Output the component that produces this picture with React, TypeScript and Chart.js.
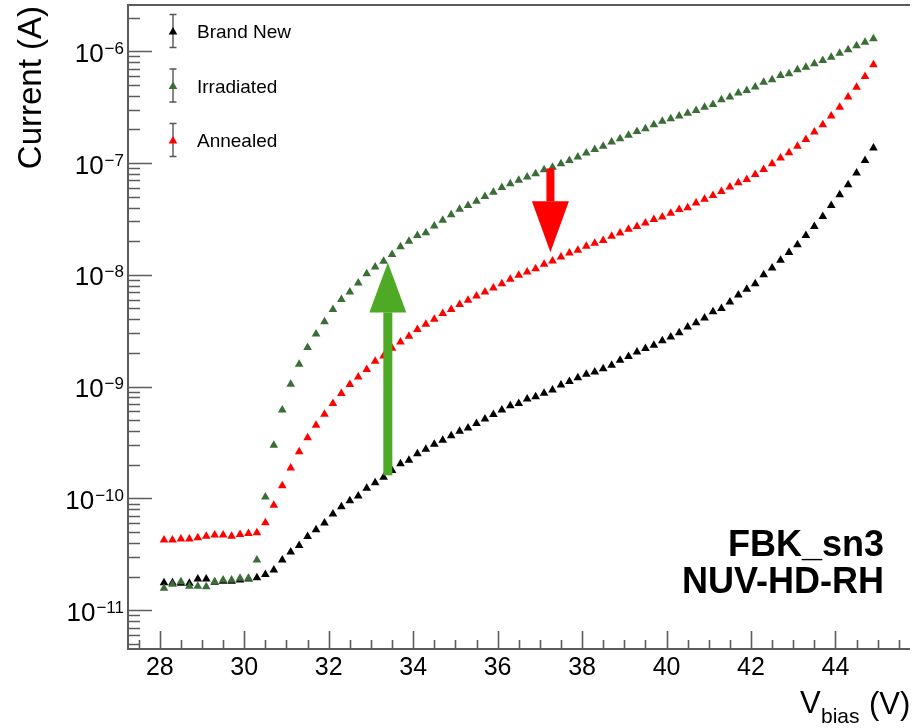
import React, { useEffect, useRef } from 'react';
import { Chart, registerables } from 'chart.js';

Chart.register(...registerables);

// ---------- data ----------
const voltages = [
  28.1, 28.3, 28.5, 28.7, 28.9, 29.1, 29.3, 29.5, 29.7, 29.9,
  30.1, 30.3, 30.5, 30.7, 30.9, 31.1, 31.3, 31.5, 31.7, 31.9,
  32.1, 32.3, 32.5, 32.7, 32.9, 33.1, 33.3, 33.5, 33.7, 33.9,
  34.1, 34.3, 34.5, 34.7, 34.9, 35.1, 35.3, 35.5, 35.7, 35.9,
  36.1, 36.3, 36.5, 36.7, 36.9, 37.1, 37.3, 37.5, 37.7, 37.9,
  38.1, 38.3, 38.5, 38.7, 38.9, 39.1, 39.3, 39.5, 39.7, 39.9,
  40.1, 40.3, 40.5, 40.7, 40.9, 41.1, 41.3, 41.5, 41.7, 41.9,
  42.1, 42.3, 42.5, 42.7, 42.9, 43.1, 43.3, 43.5, 43.7, 43.9,
  44.1, 44.3, 44.5, 44.7, 44.9,
];

const brandNew = [
  1.76e-11, 1.76e-11, 1.74e-11, 1.74e-11, 1.90e-11, 1.90e-11, 1.78e-11, 1.82e-11, 1.82e-11, 1.86e-11,
  1.90e-11, 1.95e-11, 2.09e-11, 2.29e-11, 2.82e-11, 3.31e-11, 3.80e-11, 4.57e-11, 5.25e-11, 6.03e-11,
  7.24e-11, 8.41e-11, 9.55e-11, 1.05e-10, 1.23e-10, 1.38e-10, 1.55e-10, 1.78e-10, 2.04e-10, 2.19e-10,
  2.51e-10, 2.75e-10, 3.05e-10, 3.31e-10, 3.63e-10, 3.98e-10, 4.27e-10, 4.68e-10, 5.13e-10, 5.62e-10,
  6.17e-10, 6.76e-10, 7.08e-10, 7.76e-10, 8.13e-10, 8.71e-10, 9.33e-10, 1.035e-9, 1.11e-9, 1.20e-9,
  1.29e-9, 1.35e-9, 1.445e-9, 1.55e-9, 1.72e-9, 1.86e-9, 2.04e-9, 2.19e-9, 2.34e-9, 2.57e-9,
  2.78e-9, 3.04e-9, 3.42e-9, 3.72e-9, 4.11e-9, 4.68e-9, 5.01e-9, 5.71e-9, 6.61e-9, 7.41e-9,
  8.32e-9, 1.00e-8, 1.15e-8, 1.35e-8, 1.585e-8, 1.86e-8, 2.25e-8, 2.71e-8, 3.33e-8, 4.17e-8,
  5.21e-8, 6.40e-8, 8.13e-8, 1.054e-7, 1.36e-7,
];

const irradiated = [
  1.57e-11, 1.71e-11, 1.80e-11, 1.64e-11, 1.64e-11, 1.62e-11, 1.80e-11, 1.86e-11, 1.86e-11, 1.93e-11,
  1.93e-11, 2.82e-11, 1.03e-10, 2.99e-10, 6.17e-10, 1.05e-9, 1.585e-9, 2.24e-9, 2.95e-9, 3.80e-9,
  4.90e-9, 6.03e-9, 7.02e-9, 8.45e-9, 1.02e-8, 1.175e-8, 1.32e-8, 1.52e-8, 1.78e-8, 2.00e-8,
  2.25e-8, 2.38e-8, 2.73e-8, 3.07e-8, 3.45e-8, 3.85e-8, 4.17e-8, 4.54e-8, 5.01e-8, 5.49e-8,
  6.03e-8, 6.53e-8, 7.00e-8, 7.48e-8, 8.02e-8, 8.71e-8, 9.18e-8, 9.86e-8, 1.054e-7, 1.13e-7,
  1.23e-7, 1.32e-7, 1.41e-7, 1.54e-7, 1.65e-7, 1.77e-7, 1.91e-7, 2.03e-7, 2.20e-7, 2.36e-7,
  2.49e-7, 2.63e-7, 2.79e-7, 2.95e-7, 3.16e-7, 3.34e-7, 3.68e-7, 3.89e-7, 4.22e-7, 4.46e-7,
  4.78e-7, 5.28e-7, 5.55e-7, 6.07e-7, 6.28e-7, 6.82e-7, 7.19e-7, 7.71e-7, 8.26e-7, 8.83e-7,
  9.59e-7, 1.03e-6, 1.12e-6, 1.20e-6, 1.29e-6,
];

const annealed = [
  4.24e-11, 4.24e-11, 4.33e-11, 4.33e-11, 4.45e-11, 4.60e-11, 4.70e-11, 4.70e-11, 4.60e-11, 4.76e-11,
  4.86e-11, 4.93e-11, 6.05e-11, 8.71e-11, 1.30e-10, 1.875e-10, 2.61e-10, 3.48e-10, 4.52e-10, 5.66e-10,
  7.06e-10, 8.67e-10, 1.045e-9, 1.22e-9, 1.42e-9, 1.69e-9, 1.88e-9, 2.20e-9, 2.51e-9, 2.82e-9,
  3.24e-9, 3.61e-9, 4.00e-9, 4.50e-9, 4.89e-9, 5.42e-9, 5.92e-9, 6.46e-9, 7.02e-9, 7.62e-9,
  8.34e-9, 9.12e-9, 9.90e-9, 1.06e-8, 1.135e-8, 1.24e-8, 1.33e-8, 1.445e-8, 1.57e-8, 1.66e-8,
  1.80e-8, 1.92e-8, 2.03e-8, 2.21e-8, 2.37e-8, 2.55e-8, 2.71e-8, 2.90e-8, 3.12e-8, 3.29e-8,
  3.56e-8, 3.83e-8, 3.98e-8, 4.39e-8, 4.73e-8, 5.13e-8, 5.57e-8, 6.09e-8, 6.67e-8, 7.13e-8,
  7.91e-8, 8.77e-8, 9.86e-8, 1.107e-7, 1.236e-7, 1.415e-7, 1.625e-7, 1.89e-7, 2.20e-7, 2.63e-7,
  3.16e-7, 3.89e-7, 4.76e-7, 5.94e-7, 7.55e-7,
];

const seriesLabels = ['Brand New', 'Irradiated', 'Annealed'];
const xTickLabels = [28, 30, 32, 34, 36, 38, 40, 42, 44];
const yTickExponents = [-11, -10, -9, -8, -7, -6];
const xRange = [27.247, 45.718];
const yRange = [4.5e-12, 2.59e-6];

// arrows (data coordinates): x, start current, tip current
const arrowX = [33.4, 37.25];
const arrowFrom = [1.61e-10, 8.95e-8];
const arrowTo = [1.29e-8, 1.59e-8];

const deviceLines = ['FBK_sn3', 'NUV-HD-RH'];
const yTitle = 'Current (A)';
const xTitleMain = 'V';
const xTitleSub = 'bias';
const xTitleUnit = '(V)';

// ---------- styles ----------
const FONT = '"Liberation Sans", Arial, Helvetica, sans-serif';
const AXIS_COLOR = '#5c5c5c';
const seriesColors = ['#000000', '#3b6d36', '#ff0000'];
const arrowColors = ['#4eaa24', '#ff0000'];
const MARKER_R = 5;

function triangle(ctx: CanvasRenderingContext2D, x: number, y: number, r: number) {
  ctx.beginPath();
  for (let i = 0; i < 3; i++) {
    const a = (i * 2 * Math.PI) / 3;
    const px = x + Math.sin(a) * r;
    const py = y - Math.cos(a) * r;
    if (i === 0) ctx.moveTo(px, py);
    else ctx.lineTo(px, py);
  }
  ctx.closePath();
  ctx.fill();
}

function drawArrow(
  ctx: CanvasRenderingContext2D,
  x: number,
  yFrom: number,
  yTo: number,
  color: string,
  shaftW: number,
  headW: number,
  headL: number
) {
  const dir = yTo < yFrom ? -1 : 1;
  const baseY = yTo - dir * headL;
  ctx.fillStyle = color;
  ctx.fillRect(x - shaftW / 2, Math.min(yFrom, baseY), shaftW, Math.abs(baseY - yFrom));
  ctx.beginPath();
  ctx.moveTo(x - headW / 2, baseY);
  ctx.lineTo(x + headW / 2, baseY);
  ctx.lineTo(x, yTo);
  ctx.closePath();
  ctx.fill();
}

const rootPlugin = {
  id: 'rootPlugin',
  afterDatasetsDraw(chart: any) {
    const { ctx, scales } = chart;
    const x = scales.x;
    const y = scales.y;
    ctx.save();
    arrowX.forEach((v, i) => {
      drawArrow(
        ctx,
        x.getPixelForValue(v),
        y.getPixelForValue(arrowFrom[i]),
        y.getPixelForValue(arrowTo[i]),
        arrowColors[i],
        i === 0 ? 9 : 8,
        37,
        i === 0 ? 50 : 51
      );
    });
    ctx.restore();
  },
  afterDraw(chart: any) {
    const { ctx, chartArea: a, scales } = chart;
    const x = scales.x;
    const y = scales.y;
    ctx.save();

    // frame (left, top, bottom)
    ctx.strokeStyle = AXIS_COLOR;
    ctx.lineWidth = 2;
    ctx.beginPath();
    ctx.moveTo(a.right + 2, a.top);
    ctx.lineTo(a.left, a.top);
    ctx.lineTo(a.left, a.bottom);
    ctx.lineTo(a.right + 2, a.bottom);
    ctx.stroke();

    // y ticks (log)
    ctx.lineWidth = 1.6;
    ctx.beginPath();
    for (let e = -13; e <= -5; e++) {
      for (let k = 1; k <= 9; k++) {
        const v = k * Math.pow(10, e);
        if (v < y.min || v > y.max) continue;
        const py = Math.round(y.getPixelForValue(v)) + 0.5;
        const len = k === 1 ? 24 : 12;
        ctx.moveTo(a.left, py);
        ctx.lineTo(a.left + len, py);
      }
    }
    // x ticks
    const i0 = Math.ceil(x.min * 2);
    const i1 = Math.floor(x.max * 2);
    for (let i = i0; i <= i1; i++) {
      const v = i / 2;
      const px = Math.round(x.getPixelForValue(v)) + 0.5;
      const len = i % 4 === 0 ? 18 : 9;
      ctx.moveTo(px, a.bottom);
      ctx.lineTo(px, a.bottom - len);
    }
    ctx.stroke();

    ctx.fillStyle = '#000';
    ctx.textBaseline = 'alphabetic';

    // y tick labels 10^e
    yTickExponents.forEach((e) => {
      const py = y.getPixelForValue(Math.pow(10, e));
      const expStr = '\u2212' + String(Math.abs(e));
      ctx.font = `17px ${FONT}`;
      const wExp = ctx.measureText(expStr).width;
      ctx.font = `26px ${FONT}`;
      const wTen = ctx.measureText('10').width;
      const right = 124;
      ctx.textAlign = 'left';
      ctx.fillText('10', right - wExp - wTen - 1, py + 10.5);
      ctx.font = `17px ${FONT}`;
      ctx.fillText(expStr, right - wExp, py + 2.5);
    });

    // x tick labels
    ctx.font = `25px ${FONT}`;
    ctx.textAlign = 'center';
    xTickLabels.forEach((v) => {
      ctx.fillText(String(v), x.getPixelForValue(v), a.bottom + 26);
    });

    // y title
    ctx.save();
    ctx.translate(41, a.top + 1);
    ctx.rotate(-Math.PI / 2);
    ctx.textAlign = 'right';
    ctx.font = `33px ${FONT}`;
    ctx.fillText(yTitle, 0, 0);
    ctx.restore();

    // x title V_bias (V)
    ctx.textAlign = 'left';
    ctx.font = `31px ${FONT}`;
    ctx.fillText(xTitleMain, 800, 713);
    ctx.font = `21px ${FONT}`;
    ctx.fillText(xTitleSub, 821, 723);
    ctx.font = `31px ${FONT}`;
    ctx.fillText(xTitleUnit, 869, 714);

    // device label
    ctx.font = `bold 36px ${FONT}`;
    ctx.textAlign = 'right';
    ctx.fillText(deviceLines[0], 884, 556);
    ctx.fillText(deviceLines[1], 884, 593);

    // legend
    const order = [0, 1, 2];
    order.forEach((di, row) => {
      const cy = 31 + row * 54.5;
      const mx = 173;
      ctx.strokeStyle = '#555';
      ctx.lineWidth = 1.4;
      ctx.beginPath();
      ctx.moveTo(mx, cy - 16.5);
      ctx.lineTo(mx, cy + 16.5);
      ctx.moveTo(mx - 3.5, cy - 16.5);
      ctx.lineTo(mx + 3.5, cy - 16.5);
      ctx.moveTo(mx - 3.5, cy + 16.5);
      ctx.lineTo(mx + 3.5, cy + 16.5);
      ctx.stroke();
      ctx.fillStyle = seriesColors[di];
      triangle(ctx, mx, cy + 1, MARKER_R);
      ctx.fillStyle = '#000';
      ctx.font = `19px ${FONT}`;
      ctx.textAlign = 'left';
      ctx.fillText(seriesLabels[di], 197, cy + 7);
    });

    ctx.restore();
  },
};

export default function App() {
  const ref = useRef<HTMLCanvasElement>(null);

  useEffect(() => {
    const canvas = ref.current;
    if (!canvas) return;
    const seriesData = [brandNew, irradiated, annealed];
    const chart = new Chart(canvas, {
      type: 'scatter',
      data: {
        datasets: seriesData.map((vals, i) => ({
          label: seriesLabels[i],
          data: voltages.map((v, j) => ({ x: v, y: vals[j] })),
          backgroundColor: seriesColors[i],
          borderColor: seriesColors[i],
          pointStyle: 'triangle',
          pointRadius: MARKER_R,
          pointBorderWidth: 0,
          showLine: false,
          order: 3 - i,
        })),
      },
      options: {
        responsive: false,
        animation: false,
        devicePixelRatio: 1,
        layout: { padding: { left: 128, top: 5, right: 0, bottom: 79 } },
        plugins: {
          legend: { display: false },
          tooltip: { enabled: false },
        },
        scales: {
          x: { type: 'linear', min: xRange[0], max: xRange[1], display: false },
          y: { type: 'logarithmic', min: yRange[0], max: yRange[1], display: false },
        },
      },
      plugins: [rootPlugin],
    } as any);
    return () => chart.destroy();
  }, []);

  return (
    <div
      style={{
        position: 'fixed',
        left: 0,
        top: 0,
        width: 913,
        height: 728,
        background: '#ffffff',
      }}
    >
      <canvas
        ref={ref}
        width={913}
        height={728}
        style={{ display: 'block', width: 913, height: 728 }}
      />
    </div>
  );
}
